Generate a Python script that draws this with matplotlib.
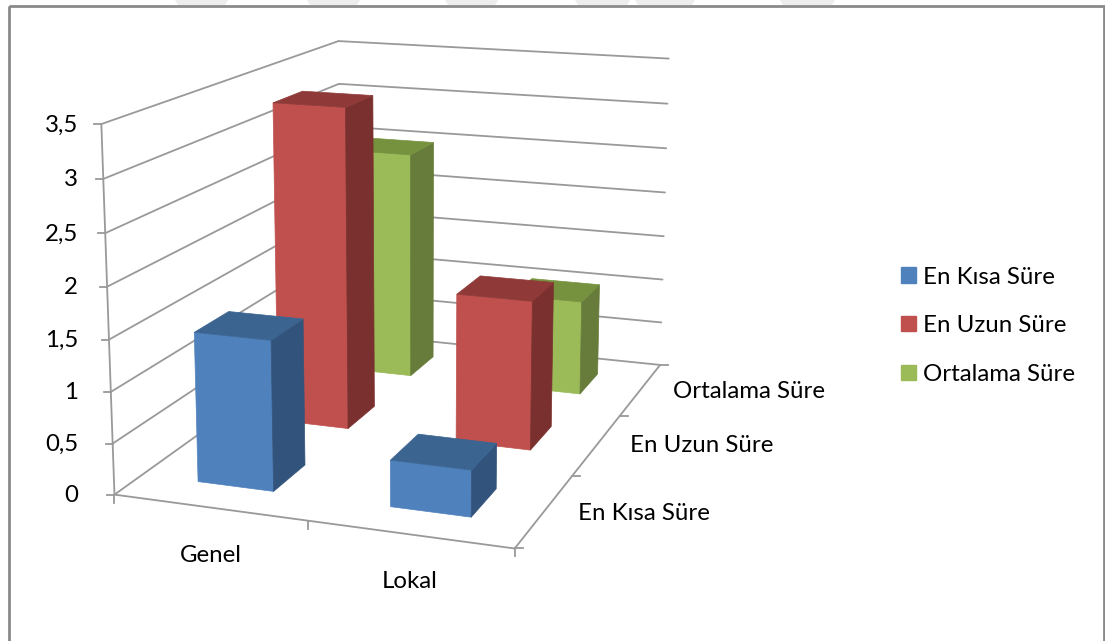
import numpy as np
import matplotlib
matplotlib.use('Agg')
import matplotlib.pyplot as plt
from matplotlib.patches import Patch, Polygon, Rectangle

plt.rcParams['font.family'] = ['Lato', 'DejaVu Sans']

categories = ['Genel', 'Lokal']
series_names = ['En Kısa Süre', 'En Uzun Süre', 'Ortalama Süre']
en_kisa = [1.47, 0.45]
en_uzun = [3.33, 1.53]
ortalama = [2.5, 1.03]
value_ticks = [0, 0.5, 1, 1.5, 2, 2.5, 3, 3.5]
tick_labels = ['0', '0,5', '1', '1,5', '2', '2,5', '3', '3,5']

series_values = [en_kisa, en_uzun, ortalama]
front_colors = ['#4F81BD', '#C0504D', '#9BBB59']
side_colors = ['#32537B', '#7A302E', '#677C3A']
top_colors = ['#3B6491', '#8F3A38', '#76923F']
line_color = '#999999'
font_size = 17.3
gap = 0.3  # gap width 150%, bar takes 0.4 of its cell

# faint page watermark showing above the chart frame
watermark_spans = [(175, 228), (307, 360), (445, 498), (575, 630), (635, 695), (780, 835)]

# camera: (category, series, value) -> pixel, fitted on the box corners
camera_points = [
    ((0, 0, 0), (115, 494)), ((0, 0, 3.5), (102, 124)), ((0, 3, 3.5), (338, 41)),
    ((2, 0, 0), (515, 548)), ((2, 3, 0), (660, 365)), ((2, 3, 3.5), (669, 59)),
    ((1, 0, 0), (308, 522)), ((0, 0, 1.5), (108, 339)), ((2, 3, 1.5), (664, 236)),
    ((0.7, 0.3, 0), (273, 491)), ((0.3, 0.3, 0), (199, 482)), ((0.7, 0.7, 0), (304, 465)),
    ((1.7, 0.3, 0), (470, 517)), ((1.3, 0.3, 0), (390, 507)), ((1.7, 0.7, 0), (496, 489)),
    ((0.7, 1.3, 0), (349, 429)), ((1.7, 1.3, 0), (532, 450)),
    ((0.7, 2.3, 0), (411, 376)), ((1.7, 2.3, 0), (579, 393)),
]


def fit_camera(points):
    rows = []
    for (x, y, z), (u, v) in points:
        rows.append([x, y, z, 1, 0, 0, 0, 0, -u*x, -u*y, -u*z, -u])
        rows.append([0, 0, 0, 0, x, y, z, 1, -v*x, -v*y, -v*z, -v])
    _, _, vt = np.linalg.svd(np.array(rows, dtype=float))
    return vt[-1].reshape(3, 4)


cam = fit_camera(camera_points)


def project(x, y, z):
    u, v, w = cam @ np.array([x, y, z, 1.0])
    return u / w, v / w


def line3d(ax, a, b, lw=1.3):
    pa, pb = project(*a), project(*b)
    ax.plot([pa[0], pb[0]], [pa[1], pb[1]], color=line_color, lw=lw, solid_capstyle='round', zorder=2)


def bar3d(ax, x0, x1, y0, y1, h, front, side, top):
    faces = [
        ([(x0, y0, 0), (x1, y0, 0), (x1, y0, h), (x0, y0, h)], front),
        ([(x1, y0, 0), (x1, y1, 0), (x1, y1, h), (x1, y0, h)], side),
        ([(x0, y0, h), (x1, y0, h), (x1, y1, h), (x0, y1, h)], top),
    ]
    for corners, color in faces:
        ax.add_patch(Polygon([project(*c) for c in corners], closed=True, facecolor=color,
                             edgecolor=color, lw=0.5, zorder=3))


fig = plt.figure(figsize=(11.05, 6.41), dpi=100)
ax = fig.add_axes([0, 0, 1, 1])
ax.set_xlim(0, 1105)
ax.set_ylim(641, 0)
ax.axis('off')

for x0, x1 in watermark_spans:
    ax.add_patch(Polygon([(x0, 0), (x1, 0), (x1 - 3, 5), (x0 + 3, 5)], closed=True,
                         facecolor='#EDEDED', edgecolor='none', zorder=0))

# frame runs off the bottom of the picture
ax.add_patch(Rectangle((8.5, 5.5), 1095.5, 700, fill=False, edgecolor='#8A8A8A', lw=2, zorder=1))

n_cat = len(categories)
n_ser = len(series_names)
top_val = value_ticks[-1]

# walls and floor
for v, label in zip(value_ticks, tick_labels):
    line3d(ax, (0, 0, v), (0, n_ser, v))
    line3d(ax, (0, n_ser, v), (n_cat, n_ser, v))
    px, py = project(0, 0, v)
    ax.plot([px - 7, px], [py, py], color=line_color, lw=1.3, zorder=2)
    ax.text(78, py + 1, label, ha='right', va='center', fontsize=font_size, color='black')
line3d(ax, (0, 0, 0), (0, 0, top_val))
line3d(ax, (0, 0, 0), (n_cat, 0, 0))
line3d(ax, (n_cat, 0, 0), (n_cat, n_ser, 0))

for i in range(n_cat + 1):
    px, py = project(i, 0, 0)
    ax.plot([px, px], [py, py + 8], color=line_color, lw=1.3, zorder=2)
for j in range(n_ser + 1):
    px, py = project(n_cat, j, 0)
    ax.plot([px, px + 8], [py, py], color=line_color, lw=1.3, zorder=2)

# back row first so the front bars cover it
for s in reversed(range(n_ser)):
    for c in range(n_cat):
        bar3d(ax, c + gap, c + 1 - gap, s + gap, s + 1 - gap, series_values[s][c],
              front_colors[s], side_colors[s], top_colors[s])

for name, (px, py) in zip(categories, [(211, 555), (410, 582)]):
    ax.text(px, py, name, ha='center', va='center', fontsize=font_size, color='black')
for name, (px, py) in zip(series_names, [(578, 513), (630, 446), (673, 391)]):
    ax.text(px, py, name, ha='left', va='center', fontsize=font_size, color='black')

handles = [Patch(facecolor=c, edgecolor=c) for c in front_colors]
ax.legend(handles, series_names, loc='upper left', bbox_to_anchor=(901, 266.5),
          bbox_transform=ax.transData, frameon=False, fontsize=font_size, handlelength=0.62,
          handleheight=0.62, handletextpad=0.3, labelspacing=1.15, borderpad=0, borderaxespad=0)

fig.savefig('out.png', dpi=100)
